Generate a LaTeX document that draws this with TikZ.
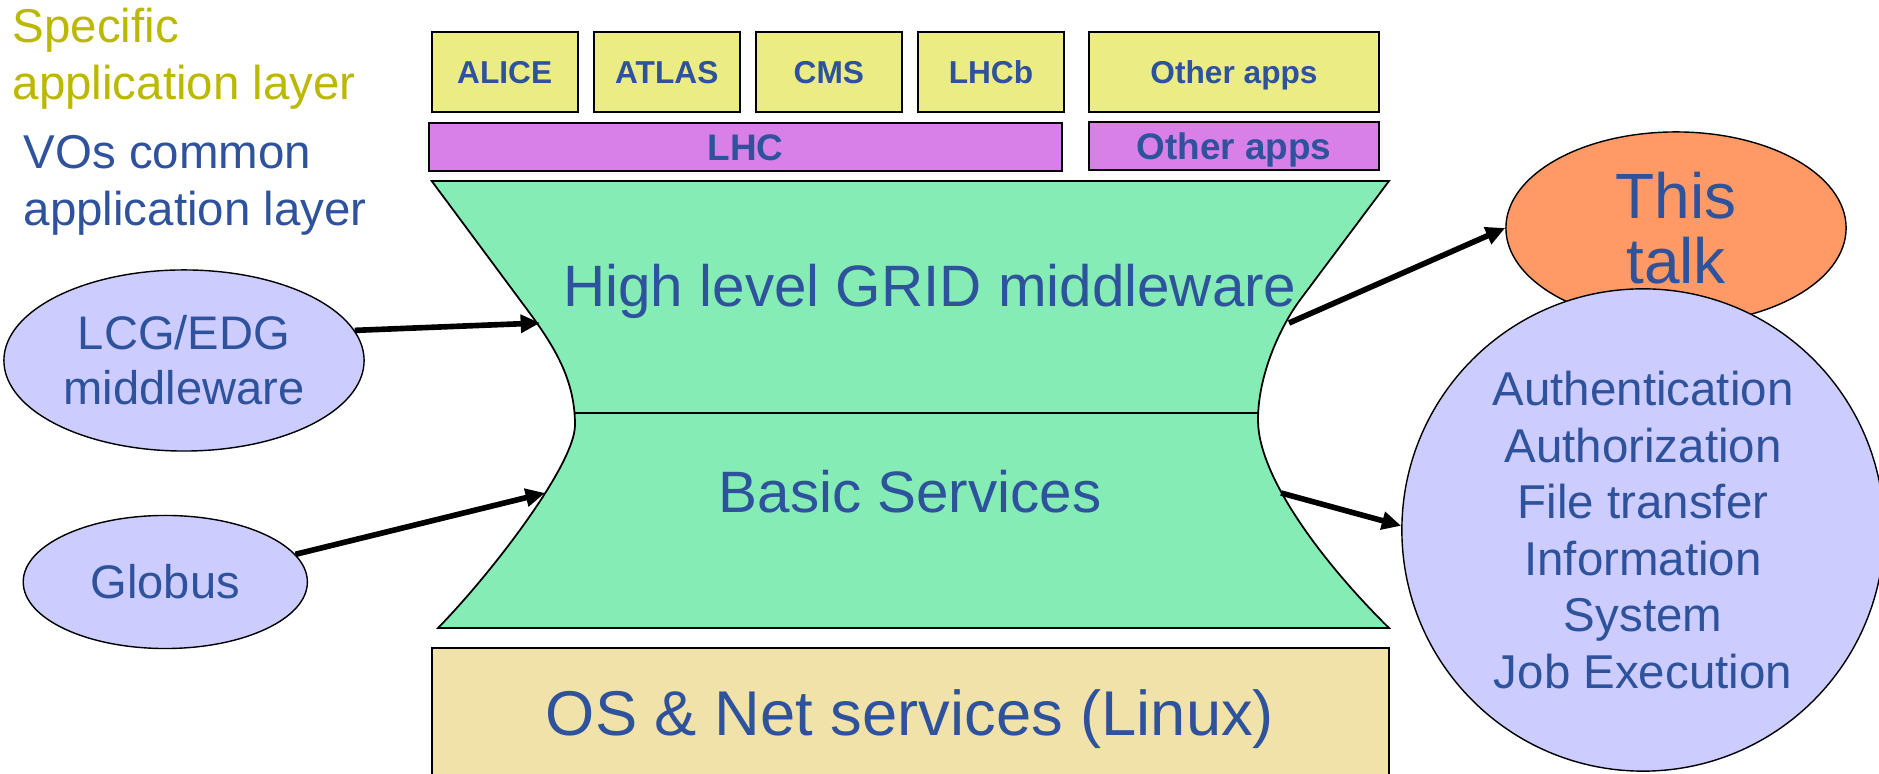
\documentclass[tikz,border=0pt]{standalone}
\usepackage{fontspec}
\setmainfont{Liberation Sans}
\usepackage{xcolor}
\usetikzlibrary{shapes.geometric,arrows.meta}

\definecolor{txtblue}{RGB}{46,82,155}
\definecolor{olivetxt}{RGB}{187,184,0}
\definecolor{appyellow}{RGB}{236,236,132}
\definecolor{lhcpurple}{RGB}{216,128,232}
\definecolor{mwgreen}{RGB}{132,236,180}
\definecolor{osbeige}{RGB}{241,226,170}
\definecolor{lavender}{RGB}{204,204,255}
\definecolor{talkorange}{RGB}{255,153,102}

\begin{document}
\begin{tikzpicture}[x=0.01cm, y=-0.01cm, node distance=1.62cm,
    appbox/.style={rectangle, draw, line width=0.5pt, fill=appyellow, text=txtblue, inner sep=0pt, minimum width=1.46cm, minimum height=0.8cm, text height=6.4pt, text depth=0pt, font=\fontsize{9}{11}\selectfont\bfseries},
    lhcbox/.style={rectangle, draw, line width=0.5pt, fill=lhcpurple, text=txtblue, inner sep=0pt, minimum height=0.48cm, text height=7.5pt, text depth=0pt, font=\fontsize{10.5}{12}\selectfont\bfseries},
    mwellipse/.style={ellipse, draw, line width=0.4pt, fill=lavender, text=txtblue, inner sep=0pt, align=center, font=\fontsize{13.4}{15.6}\selectfont},
    layerlabel/.style={anchor=west, align=left, inner sep=0pt, font=\fontsize{13.5}{16.2}\selectfont},
    feed/.style={line width=1.6pt, -{Triangle[length=5.5pt, width=5pt]}}]
    \def\bigfont{\fontsize{16.6}{19}\selectfont}
    \useasboundingbox (0,0) rectangle (1879,774);
    \clip (0,0) rectangle (1879,774);

    \draw[fill=mwgreen, line width=0.5pt] (431.7,181) -- (1389,181) -- (1300,300)
        .. controls (1280,327) and (1258,375) .. (1258,420)
        .. controls (1258,480) and (1330,570) .. (1389,628)
        -- (438,628)
        .. controls (490,575) and (575,465) .. (575,425)
        .. controls (575,375) and (550,340) .. (520,300) -- cycle;
    \draw[line width=0.5pt] (575,413) -- (1258.5,413);
    \coordinate (hl west) at (540,323);
    \coordinate (bs west) at (545,493);
    \coordinate (hl east) at (1289,323);
    \coordinate (bs east) at (1281,493);
    \node[anchor=base, inner sep=0pt, text=txtblue, font=\bigfont] (highlevel) at (930,307) {High level GRID middleware};
    \node[anchor=base, inner sep=0pt, text=txtblue, font=\bigfont] (basic) at (910,513) {Basic Services};

    \draw[fill=osbeige, line width=0.5pt] (432,648) rectangle (1389,800);
    \node[anchor=base, inner sep=0pt, text=txtblue, font=\fontsize{18}{21}\selectfont] (osnet) at (910,736) {OS \& Net services (Linux)};

    \node[appbox] (alice) at (504.7,72) {ALICE};
    \node[appbox, right of=alice] (atlas) {ATLAS};
    \node[appbox, right of=atlas] (cms) {CMS};
    \node[appbox, right of=cms] (lhcb) {LHCb};
    \node[appbox, minimum width=2.9cm] (otherapp) at (1234,72) {Other apps};
    \node[lhcbox, minimum width=6.33cm] (lhc) at (745.5,147) {LHC};
    \node[lhcbox, minimum width=2.9cm] (othervo) at (1234,146) {Other apps};

    \node[layerlabel, text=olivetxt] (speclabel) at (12,59) {Specific\\application layer};
    \node[layerlabel, text=txtblue] (volabel) at (23,185) {VOs common\\application layer};

    \node[mwellipse, minimum width=3.6cm, minimum height=1.81cm] (lcg) at (184,360.5) {LCG/EDG\\middleware};
    \node[mwellipse, minimum width=2.84cm, minimum height=1.33cm] (globus) at (165.3,582) {Globus};

    \node[ellipse, draw, line width=0.4pt, fill=talkorange, text=txtblue, inner sep=0pt, align=center, minimum width=3.4cm, minimum height=1.92cm, font=\fontsize{18.2}{18.5}\selectfont] (talk) at (1676,228) {This\\talk};
    \node[circle, draw, line width=0.4pt, fill=lavender, text=txtblue, inner sep=0pt, align=center, minimum size=4.82cm, font=\fontsize{13.5}{16.1}\selectfont] (svc) at (1643,530)
    {Authentication\\Authorization\\File transfer\\Information\\System\\Job Execution};

    \draw[feed] (lcg.10) -- (hl west);
    \draw[feed] (globus.12) -- (bs west);
    \draw[feed] (hl east) -- (talk.west);
    \draw[feed] (bs east) -- (svc.179);
\end{tikzpicture}
\end{document}
